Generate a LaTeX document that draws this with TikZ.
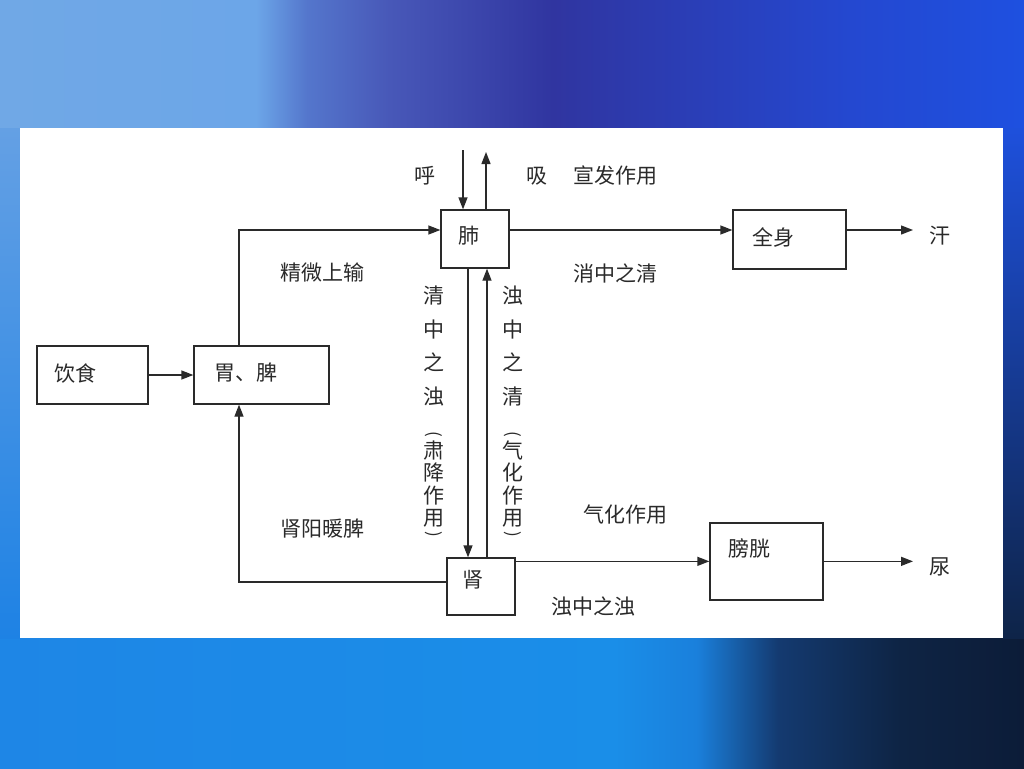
\documentclass[tikz,border=0pt]{standalone}
\usepackage{fontspec}
\newfontfamily\cjk{Noto Sans CJK SC}
\usetikzlibrary{arrows.meta,calc}
\definecolor{ink}{HTML}{2A2A2A}
\definecolor{ta}{RGB}{112,168,230}
\definecolor{tb}{RGB}{108,166,232}
\definecolor{tc}{RGB}{84,118,204}
\definecolor{tg}{RGB}{72,88,184}
\definecolor{td}{RGB}{48,53,160}
\definecolor{th}{RGB}{36,72,208}
\definecolor{tf}{RGB}{30,80,224}
\definecolor{ba}{RGB}{30,134,230}
\definecolor{bb}{RGB}{26,142,232}
\definecolor{bc}{RGB}{26,128,220}
\definecolor{bd}{RGB}{20,58,112}
\definecolor{bf}{RGB}{14,36,68}
\definecolor{be}{RGB}{12,28,56}
\pgfdeclarehorizontalshading{topbg}{100bp}{color(0bp)=(ta); color(25bp)=(ta); color(37.5bp)=(tb); color(40bp)=(tc); color(44bp)=(tg); color(52bp)=(td); color(66.5bp)=(th); color(75bp)=(tf); color(100bp)=(tf)}
\pgfdeclarehorizontalshading{botbg}{100bp}{color(0bp)=(ba); color(25bp)=(ba); color(55bp)=(bb); color(59bp)=(bc); color(63bp)=(bd); color(69bp)=(bf); color(75bp)=(be); color(100bp)=(be)}
\definecolor{lstop}{RGB}{100,160,228}
\definecolor{lsbot}{RGB}{30,130,228}
\definecolor{rstop}{RGB}{30,80,220}
\definecolor{rsbot}{RGB}{14,36,72}
\tikzset{
  box/.style={draw=ink, line width=1.3pt, fill=white, inner sep=0pt},
  arr/.style={draw=ink, line width=1.3pt, -{Triangle[length=12pt,width=9pt]}},
  lbl/.style={text=ink, font=\cjk\fontsize{21}{24}\selectfont, inner sep=0pt},
  vcol/.style={lbl, align=center},
  paren/.style={lbl, font=\cjk\fontsize{17}{20}\selectfont, rotate=-90},
}
\begin{document}
\begin{tikzpicture}[x=1pt,y=-1pt]
\useasboundingbox (0,0) rectangle (1024,768);
% background
\shade[shading=topbg] (0,0) rectangle (1024,128);
\shade[shading=botbg] (0,638) rectangle (1024,768);
\shade[top color=lstop, bottom color=lsbot] (0,128) rectangle (20,638);
\shade[top color=rstop, bottom color=rsbot] (1003,128) rectangle (1024,638);
\fill[white] (20,128) rectangle (1003,638);

% boxes
\node[box, minimum width=111pt, minimum height=58pt] (yinshi) at (92.5,375) {};
\node[box, minimum width=135pt, minimum height=58pt] (weipi) at (261.5,375) {};
\node[box, minimum width=68pt, minimum height=58pt] (fei) at (475,239) {};
\node[box, minimum width=113pt, minimum height=59pt] (quanshen) at (789.5,239.5) {};
\node[box, minimum width=68pt, minimum height=57pt] (shen) at (481,586.5) {};
\node[box, minimum width=113pt, minimum height=77pt] (pangguang) at (766.5,561.5) {};

% box texts
\node[lbl] (t-yinshi) at (75,374) {饮食};
\node[lbl] (t-weipi) at (246,373) {胃、脾};
\node[lbl] (t-fei) at (469,236) {肺};
\node[lbl] (t-quanshen) at (773,237) {全身};
\node[lbl] (t-shen) at (473,580) {肾};
\node[lbl] (t-pangguang) at (749,548) {膀胱};

% free ends
\coordinate (hutop) at (463,150);
\coordinate (xitop) at (486,152);
\coordinate (s1) at ([yshift=-4pt]shen.north east);
\coordinate (f1) at ([yshift=9pt]fei.east);
\coordinate (hanend) at (f1 -| 913,0);
\coordinate (niaoend) at (s1 -| 913,0);

% connectors
\draw[arr] (yinshi.east) -- (weipi.west);
\draw[arr] ([xshift=-22.5pt]weipi.north) |- ([yshift=9pt]fei.west);
\draw[arr] (f1) -- (f1 -| quanshen.west);
\draw[arr] (f1 -| quanshen.east) -- (hanend);
\draw[arr] (hutop) -- (hutop |- fei.north);
\draw[arr] (xitop |- fei.north) -- (xitop);
\draw[arr] (fei.south -| 468,0) -- (shen.north -| 468,0);
\draw[arr] (shen.north -| 487,0) -- (fei.south -| 487,0);
\draw[arr] ([yshift=4.5pt]shen.west) -| ([xshift=-22.5pt]weipi.south);
\draw[arr] (s1) -- (s1 -| pangguang.west);
\draw[arr] (s1 -| pangguang.east) -- (niaoend);

% labels
\node[lbl] (hu) at (425,176) {呼};
\node[lbl] (xi) at (537,176) {吸};
\node[lbl] (xuanfa) at (615,176) {宣发作用};
\node[lbl] (han) at (940,236) {汗};
\node[lbl] (niao) at (940,567) {尿};
\node[lbl] (jingwei) at (322,273) {精微上输};
\node[lbl] (xiaozhong) at (615,273) {消中之清};
\node[lbl] (shenyang) at (322,529) {肾阳暖脾};
\node[lbl] (qihua) at (625,515) {气化作用};
\node[lbl] (zhuozhong) at (593,606) {浊中之浊};

% vertical columns
\node[vcol, font=\cjk\fontsize{21}{33.5}\selectfont] (c1a) at (434,346) {清\\中\\之\\浊};
\node[paren] (c1p1) at (434,434) {(};
\node[vcol, font=\cjk\fontsize{21}{22.5}\selectfont] (c1b) at (434,484) {肃\\降\\作\\用};
\node[paren] (c1p2) at (434,534) {)};
\node[vcol, font=\cjk\fontsize{21}{33.5}\selectfont] (c2a) at (513,346) {浊\\中\\之\\清};
\node[paren] (c2p1) at (513,434) {(};
\node[vcol, font=\cjk\fontsize{21}{22.5}\selectfont] (c2b) at (513,484) {气\\化\\作\\用};
\node[paren] (c2p2) at (513,534) {)};
\end{tikzpicture}
\end{document}
